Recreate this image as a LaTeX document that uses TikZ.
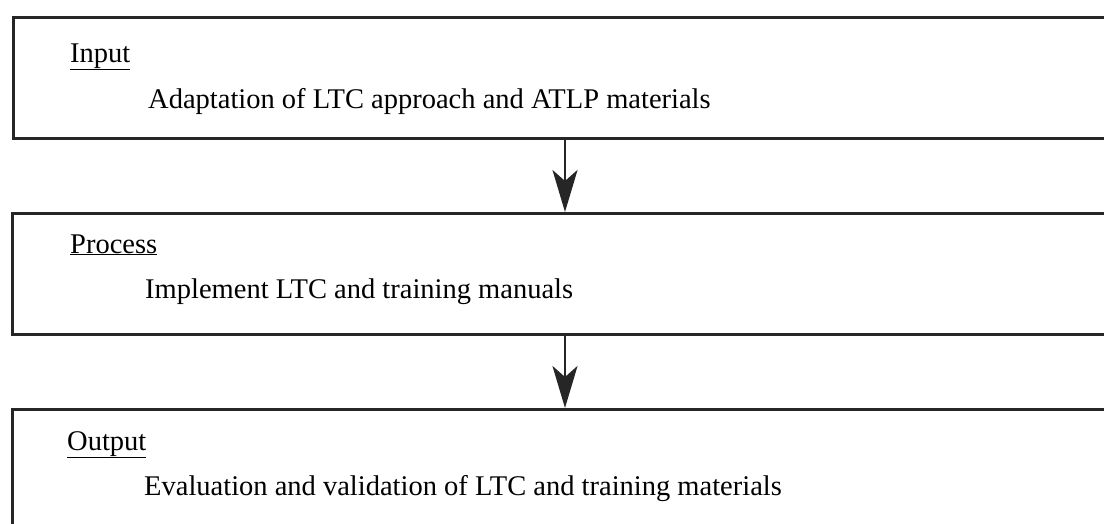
\documentclass[tikz,border=0pt]{standalone}
\usepackage{fontspec}
\setmainfont{Liberation Serif}
\usetikzlibrary{arrows.meta}
\begin{document}
\begin{tikzpicture}[x=1pt,y=-1pt,
  stage/.style={draw=black!85, line width=2.7pt, minimum width=1120pt, inner sep=0pt, anchor=north west},
  txt/.style={inner sep=0pt, anchor=base west, font=\fontsize{28.5}{34}\selectfont},
  flow/.style={line width=2.7pt, draw=black!85, -{Stealth[length=42pt,width=25pt,inset=11pt]}}]
\useasboundingbox (0,0) rectangle (1104,523);
\clip (0,0) rectangle (1104,523);
\node[stage, minimum height=121pt] (b1) at (12,16) {};
\node[stage, minimum height=121pt] (b2) at (11,212) {};
\node[stage, minimum height=140pt] (b3) at (11,408) {};
\coordinate (ax) at (565,0);
\draw[flow] (b1.south -| ax) -- (b2.north -| ax);
\draw[flow] (b2.south -| ax) -- (b3.north -| ax);
\node[txt] (h1) at (70,62) {\underline{Input}};
\node[txt] (t1) at (148,108) {Adaptation of LTC approach and ATLP materials};
\node[txt] (h2) at (70,253) {\underline{Process}};
\node[txt] (t2) at (145,298) {Implement LTC and training manuals};
\node[txt] (h3) at (67,450) {\underline{Output}};
\node[txt] (t3) at (144,495) {Evaluation and validation of LTC and training materials};
\end{tikzpicture}
\end{document}
